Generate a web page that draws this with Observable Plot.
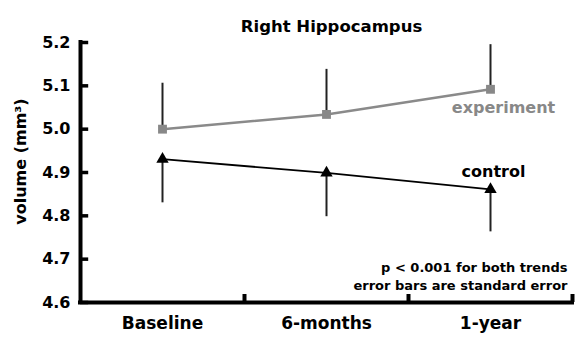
<!DOCTYPE html>
<html><head><meta charset="utf-8">
<script src="https://cdn.jsdelivr.net/npm/d3@7"></script>
<script src="https://cdn.jsdelivr.net/npm/@observablehq/plot@0.6"></script>
<style>body{margin:0;background:#fff}</style>
</head><body><div id="chart"></div>
<script>
const categories = ["Baseline", "6-months", "1-year"];
const experiment = [5.000, 5.034, 5.092];
const experimentSE = [0.106, 0.104, 0.103];
const control = [4.931, 4.899, 4.861];
const controlSE = [0.101, 0.101, 0.098];
const yTicks = [4.6, 4.7, 4.8, 4.9, 5.0, 5.1, 5.2];
const title = "Right Hippocampus";
const yLabel = "volume (mm³)";
const notes = ["p < 0.001 for both trends", "error bars are standard error"];

const pos = categories.map((c, i) => i + 0.5);
const bounds = categories.map((c, i) => i + 1);
const expData = categories.map((c, i) => ({x: pos[i], y: experiment[i], hi: experiment[i] + experimentSE[i]}));
const ctlData = categories.map((c, i) => ({x: pos[i], y: control[i], lo: control[i] - controlSE[i]}));

const plot = Plot.plot({
  width: 582, height: 339,
  marginLeft: 80, marginRight: 10, marginTop: 42, marginBottom: 37,
  style: {fontFamily: "DejaVu Sans", fontWeight: "bold", background: "white", color: "black"},
  x: {type: "linear", domain: [0, 3]},
  y: {domain: [4.6, 5.2]},
  marks: [
    Plot.axisY({ticks: yTicks, tickSize: 0, tickPadding: 10, tickFormat: d3.format(".1f"), fontSize: 16, label: null}),
    Plot.axisX({ticks: bounds, tickSize: -8, tickFormat: () => "", strokeWidth: 4, label: null}),
    Plot.axisX({ticks: pos, tickSize: 0, tickPadding: 14, tickFormat: d => categories[Math.floor(d)], fontSize: 17, label: null}),
    Plot.ruleY(yTicks, {y: d => d, x1: 0, x2: 0.05, stroke: "black", strokeWidth: 3.5}),
    Plot.ruleX([0], {stroke: "black", strokeWidth: 4, strokeLinecap: "square"}),
    Plot.ruleY([4.6], {stroke: "black", strokeWidth: 4, strokeLinecap: "square"}),
    Plot.ruleX(expData, {x: "x", y1: "y", y2: "hi", stroke: "#222", strokeWidth: 2}),
    Plot.ruleX(ctlData, {x: "x", y1: "y", y2: "lo", stroke: "#222", strokeWidth: 2}),
    Plot.line(expData, {x: "x", y: "y", stroke: "#8a8a8a", strokeWidth: 2.5}),
    Plot.line(ctlData, {x: "x", y: "y", stroke: "black", strokeWidth: 1.8}),
    Plot.dot(expData, {x: "x", y: "y", symbol: "square", fill: "#888", r: 5}),
    Plot.dot(ctlData, {x: "x", y: "y", symbol: "triangle", fill: "black", r: 4.6}),
    Plot.text([expData[2]], {x: "x", y: "y", text: () => "experiment", fill: "#888", fontSize: 16, dx: 13, dy: 19}),
    Plot.text([ctlData[2]], {x: "x", y: "y", text: () => "control", fill: "black", fontSize: 16, dx: 3, dy: -18}),
    Plot.text([title], {frameAnchor: "top", dx: 5, dy: -22, fontSize: 16.5, fill: "black"}),
    Plot.text([yLabel], {frameAnchor: "left", textAnchor: "middle", rotate: -90, dx: -60, dy: -11, fontSize: 16, fill: "black"}),
    Plot.text([notes.join("\n")], {frameAnchor: "bottom-right", textAnchor: "end", lineAnchor: "bottom", lineHeight: 1.38, fontSize: 13, dx: -5, dy: -13, fill: "black"})
  ]
});
document.getElementById("chart").appendChild(plot);
</script>
</body></html>
